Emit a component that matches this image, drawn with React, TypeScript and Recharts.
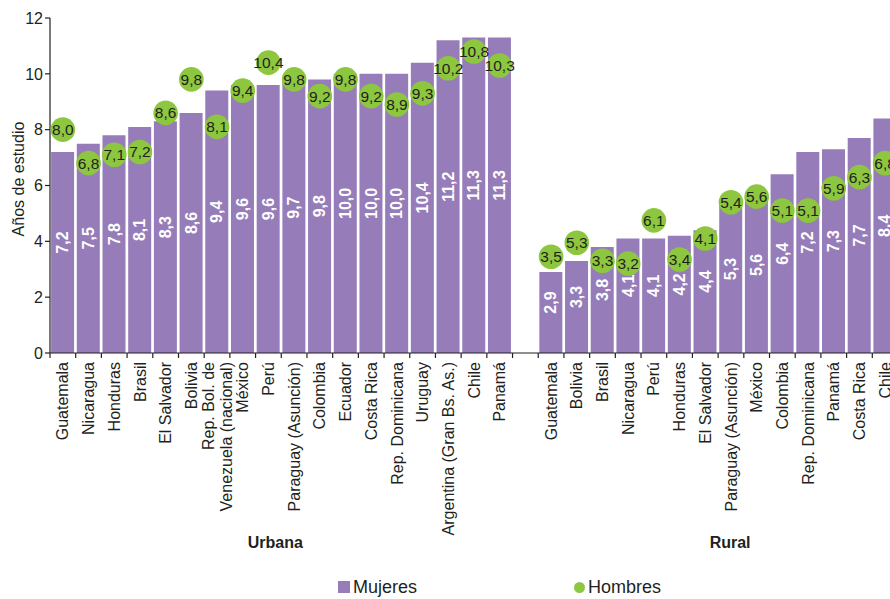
import React from 'react';
import { ComposedChart, Bar, Line, XAxis, YAxis, LabelList, Legend } from 'recharts';

const urbanCountries = [
  'Guatemala', 'Nicaragua', 'Honduras', 'Brasil', 'El Salvador', 'Bolivia',
  'Rep. Bol. de\nVenezuela (nacional)', 'México', 'Perú', 'Paraguay (Asunción)',
  'Colombia', 'Ecuador', 'Costa Rica', 'Rep. Dominicana', 'Uruguay',
  'Argentina (Gran Bs. As.)', 'Chile', 'Panamá',
];
const urbanMujeres = [7.2, 7.5, 7.8, 8.1, 8.3, 8.6, 9.4, 9.6, 9.6, 9.7, 9.8, 10.0, 10.0, 10.0, 10.4, 11.2, 11.3, 11.3];
const urbanHombres = [8.0, 6.8, 7.1, 7.2, 8.6, 9.8, 8.1, 9.4, 10.4, 9.8, 9.2, 9.8, 9.2, 8.9, 9.3, 10.2, 10.8, 10.3];

const ruralCountries = [
  'Guatemala', 'Bolivia', 'Brasil', 'Nicaragua', 'Perú', 'Honduras', 'El Salvador',
  'Paraguay (Asunción)', 'México', 'Colombia', 'Rep. Dominicana', 'Panamá', 'Costa Rica', 'Chile',
];
const ruralMujeres = [2.9, 3.3, 3.8, 4.1, 4.1, 4.2, 4.4, 5.3, 5.6, 6.4, 7.2, 7.3, 7.7, 8.4];
// where the circles sit in the picture (Bolivia and Perú are drawn lower than their labels)
const ruralHombres = [3.45, 3.95, 3.3, 3.2, 4.75, 3.35, 4.1, 5.4, 5.6, 5.1, 5.1, 5.9, 6.3, 6.8];
const ruralHombresLabels = ['3,5', '5,3', '3,3', '3,2', '6,1', '3,4', '4,1', '5,4', '5,6', '5,1', '5,1', '5,9', '6,3', '6,8'];

const yTicks = [0, 2, 4, 6, 8, 10, 12];

const PURPLE = '#967db9';
const GREEN = '#8dc63f';
const INK = '#231f20';
const FONT = '"Liberation Sans", Arial, sans-serif';
const FS = 16;

const CHART_W = 900;
const CHART_H = 591;
const MARGIN = { top: 10, right: 10, bottom: 0, left: 0 };
const Y_W = 42;
const X_H = 246;

type Row = {
  id: string;
  name: string;
  mujeres: number | null;
  hombres: number | null;
  hombresLabel: string;
};

const fmt = (v: number) => v.toFixed(1).replace('.', ',');

const data: Row[] = [
  ...urbanCountries.map((name, i) => ({
    id: `u${i}`,
    name,
    mujeres: urbanMujeres[i],
    hombres: urbanHombres[i],
    hombresLabel: fmt(urbanHombres[i]),
  })),
  { id: 'gap', name: '', mujeres: null, hombres: null, hombresLabel: '' },
  ...ruralCountries.map((name, i) => ({
    id: `r${i}`,
    name,
    mujeres: ruralMujeres[i],
    hombres: ruralHombres[i],
    hombresLabel: ruralHombresLabels[i],
  })),
];

const byId = new Map(data.map((d) => [d.id, d]));
const SLOT = (CHART_W - MARGIN.left - MARGIN.right - Y_W) / data.length;
const ruralStart = urbanCountries.length + 1;

const XTick = (props: any) => {
  const { x, y, payload, index } = props;
  const row = byId.get(payload.value);
  const lines = row ? row.name.split('\n').filter((l) => l) : [];
  const top = y + 9;
  const lineH = 18;
  return (
    <g>
      <line x1={x - SLOT / 2} x2={x - SLOT / 2} y1={y} y2={y + 5} stroke={INK} strokeWidth={1.2} />
      {index === data.length - 1 && (
        <line x1={x + SLOT / 2} x2={x + SLOT / 2} y1={y} y2={y + 5} stroke={INK} strokeWidth={1.2} />
      )}
      {lines.length > 0 && (
        <text
          x={x}
          y={top}
          transform={`rotate(-90 ${x} ${top})`}
          textAnchor="end"
          fontSize={FS}
          fill={INK}
        >
          {lines.map((l, i) => (
            <tspan key={i} x={x} dy={i === 0 ? 5.6 - ((lines.length - 1) * lineH) / 2 : lineH}>
              {l}
            </tspan>
          ))}
        </text>
      )}
      {index === 0 && (
        <text
          x={x - SLOT / 2 + (urbanCountries.length * SLOT) / 2 - 6}
          y={y + 195}
          textAnchor="middle"
          fontSize={FS}
          fontWeight="bold"
          fill={INK}
        >
          Urbana
        </text>
      )}
      {index === ruralStart && (
        <text
          x={x - SLOT / 2 + (ruralCountries.length * SLOT) / 2 + 12}
          y={y + 195}
          textAnchor="middle"
          fontSize={FS}
          fontWeight="bold"
          fill={INK}
        >
          Rural
        </text>
      )}
    </g>
  );
};

const BarValue = (props: any) => {
  const { x, y, width, height, value } = props;
  if (value == null) return null;
  const cx = x + width / 2;
  const cy = y + height / 2 - 10;
  return (
    <text
      x={cx}
      y={cy}
      dy={5.6}
      transform={`rotate(-90 ${cx} ${cy})`}
      textAnchor="middle"
      fontSize={FS}
      fontWeight="bold"
      fill="#ffffff"
    >
      {fmt(Number(value))}
    </text>
  );
};

const HombresDot = (props: any) => {
  const { cx, cy, payload, index } = props;
  if (cx == null || cy == null || payload == null || payload.hombres == null) return <g key={`d${index}`} />;
  return (
    <g key={`d${index}`}>
      <circle cx={cx} cy={cy} r={12.3} fill={GREEN} />
      <text x={cx} y={cy} dy={5.4} textAnchor="middle" fontSize={15.5} fill={INK}>
        {payload.hombresLabel}
      </text>
    </g>
  );
};

const LegendBox = () => (
  <div style={{ position: 'relative', height: 22, width: 882, fontSize: 18, color: INK, lineHeight: '22px' }}>
    <div style={{ position: 'absolute', left: 330, top: 0, height: 22, display: 'flex', alignItems: 'center' }}>
      <span style={{ width: 12, height: 12, background: PURPLE, display: 'inline-block', marginRight: 3 }} />
      <span>Mujeres</span>
    </div>
    <div style={{ position: 'absolute', left: 566, top: 0, height: 22, display: 'flex', alignItems: 'center' }}>
      <span
        style={{ width: 11, height: 11, borderRadius: '50%', background: GREEN, display: 'inline-block', marginRight: 3 }}
      />
      <span>Hombres</span>
    </div>
  </div>
);

const YTitle = () => (
  <text
    x={10}
    y={171}
    dy={5.6}
    transform="rotate(-90 10 171)"
    textAnchor="middle"
    fontSize={FS}
    fill={INK}
  >
    Años de estudio
  </text>
);

export default function App() {
  return (
    <div
      style={{
        position: 'absolute',
        left: 0,
        top: 0,
        width: 890,
        height: 599,
        overflow: 'hidden',
        fontFamily: FONT,
        background: '#ffffff',
      }}
    >
      <div style={{ position: 'absolute', left: 8, top: 8 }}>
        <ComposedChart width={CHART_W} height={CHART_H} data={data} margin={MARGIN} barCategoryGap={1.1}>
          <XAxis
            dataKey="id"
            type="category"
            interval={0}
            height={X_H}
            tickLine={false}
            tickSize={0}
            tickMargin={0}
            axisLine={{ stroke: INK, strokeWidth: 1.2 }}
            tick={<XTick />}
          />
          <YAxis
            width={Y_W}
            domain={[0, 12]}
            ticks={yTicks}
            interval={0}
            tick={{ fontSize: FS, fill: INK }}
            tickSize={5}
            tickMargin={2}
            tickLine={{ stroke: INK, strokeWidth: 1.2 }}
            axisLine={{ stroke: INK, strokeWidth: 1.2 }}
            label={<YTitle />}
          />
          <Legend
            verticalAlign="middle"
            align="center"
            layout="horizontal"
            content={<LegendBox />}
            wrapperStyle={{ top: 568, left: 0, width: 882, height: 22 }}
          />
          <Bar dataKey="mujeres" name="Mujeres" fill={PURPLE} isAnimationActive={false}>
            <LabelList dataKey="mujeres" content={<BarValue />} />
          </Bar>
          <Line
            dataKey="hombres"
            name="Hombres"
            stroke="none"
            strokeWidth={0}
            legendType="circle"
            dot={HombresDot}
            activeDot={false}
            isAnimationActive={false}
          />
        </ComposedChart>
      </div>
    </div>
  );
}
